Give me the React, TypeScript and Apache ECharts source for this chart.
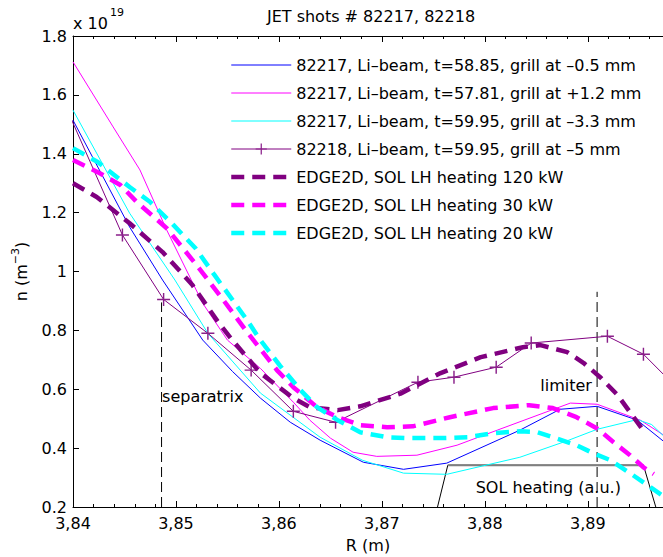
import React, { useEffect, useRef } from "react";
import * as echarts from "echarts";

// ---------- data ----------
const titleText = "JET shots # 82217, 82218";
const xLabelName = "R (m)";
const yTicks = [0.2, 1.8, 0.2]; // min, max, step
const xTicks = [3.84, 0.01]; // min, step

const seriesNames = [
  "82217, Li–beam, t=58.85, grill at –0.5 mm",
  "82217, Li–beam, t=57.81, grill at +1.2 mm",
  "82217, Li–beam, t=59.95, grill at –3.3 mm",
  "82218, Li–beam, t=59.95, grill at –5 mm",
  "EDGE2D, SOL LH heating 120 kW",
  "EDGE2D, SOL LH heating 30 kW",
  "EDGE2D, SOL LH heating 20 kW",
];

const li5885R = [3.84, 3.8455, 3.8487, 3.8526, 3.8555, 3.8582, 3.8611, 3.864, 3.8682, 3.8721, 3.8763, 3.8834, 3.8873, 3.8909, 3.8948, 3.898];
const li5885N = [1.514, 1.151, 0.971, 0.767, 0.66, 0.57, 0.488, 0.427, 0.352, 0.328, 0.349, 0.461, 0.532, 0.542, 0.495, 0.405];

const li5781R = [3.84, 3.8439, 3.8465, 3.8491, 3.8526, 3.855, 3.8582, 3.8614, 3.863, 3.865, 3.8672, 3.8695, 3.8734, 3.8773, 3.8812, 3.8883, 3.8909, 3.8951, 3.898];
const li5781N = [1.712, 1.491, 1.345, 1.141, 0.892, 0.767, 0.671, 0.556, 0.495, 0.434, 0.386, 0.372, 0.376, 0.41, 0.461, 0.553, 0.549, 0.495, 0.43];

const li5995R = [3.84, 3.8455, 3.8499, 3.8531, 3.8582, 3.864, 3.8681, 3.8721, 3.8763, 3.8834, 3.888, 3.8909, 3.8948, 3.8962, 3.898];
const li5995N = [1.548, 1.198, 0.971, 0.79, 0.587, 0.437, 0.359, 0.315, 0.311, 0.369, 0.425, 0.464, 0.497, 0.48, 0.42];

const sh82218R = [3.8395, 3.8448, 3.8488, 3.8531, 3.8573, 3.8614, 3.8655, 3.8735, 3.877, 3.8811, 3.8845, 3.8919, 3.8954, 3.8985];
const sh82218N = [1.544, 1.124, 0.905, 0.79, 0.665, 0.525, 0.488, 0.624, 0.641, 0.675, 0.757, 0.78, 0.719, 0.61];

const e120R = [3.84, 3.8423, 3.8455, 3.8487, 3.8516, 3.8541, 3.8553, 3.8582, 3.8614, 3.863, 3.8657, 3.8679, 3.8718, 3.8757, 3.8796, 3.8837, 3.8854, 3.888, 3.8896, 3.8912, 3.8929, 3.8941, 3.8956];
const e120N = [1.3, 1.253, 1.164, 1.066, 0.954, 0.828, 0.774, 0.655, 0.57, 0.539, 0.529, 0.542, 0.585, 0.655, 0.709, 0.743, 0.75, 0.726, 0.689, 0.641, 0.58, 0.522, 0.45];

const e30R = [3.84, 3.8426, 3.8446, 3.8462, 3.8491, 3.852, 3.8546, 3.857, 3.8598, 3.8614, 3.8637, 3.8657, 3.8679, 3.8705, 3.873, 3.8766, 3.8808, 3.8843, 3.8866, 3.8889, 3.8909, 3.8925, 3.8941, 3.8954, 3.8964];
const e30N = [1.379, 1.334, 1.294, 1.236, 1.147, 1.022, 0.903, 0.79, 0.665, 0.607, 0.539, 0.505, 0.478, 0.471, 0.474, 0.505, 0.536, 0.546, 0.536, 0.505, 0.467, 0.42, 0.376, 0.335, 0.312];

const e20R = [3.84, 3.8424, 3.8455, 3.8475, 3.8497, 3.8519, 3.8537, 3.8555, 3.8569, 3.8582, 3.8601, 3.8621, 3.8637, 3.8657, 3.8679, 3.8705, 3.8728, 3.8757, 3.8783, 3.8808, 3.8834, 3.885, 3.8866, 3.8889, 3.8905, 3.8922, 3.8941, 3.8958, 3.8972];
const e20N = [1.419, 1.372, 1.287, 1.236, 1.16, 1.079, 0.99, 0.903, 0.835, 0.767, 0.68, 0.597, 0.539, 0.495, 0.454, 0.437, 0.434, 0.434, 0.437, 0.451, 0.457, 0.455, 0.437, 0.41, 0.383, 0.359, 0.315, 0.274, 0.24];

const separatrixR = [3.8486, 3.8486];
const separatrixN = [0.2, 0.895];
const limiterR = [3.8909, 3.8909];
const limiterN = [0.2, 0.931];
const solHeatR = [3.8754, 3.8764, 3.8954, 3.8966];
const solHeatN = [0.2, 0.342, 0.342, 0.2];

// ---------- styling ----------
const FONT = "'DejaVu Sans', sans-serif";
const X_MAX = 3.8973;
const PLUS = "path://M4.45,0H5.55V4.45H10V5.55H5.55V10H4.45V5.55H0V4.45H4.45Z";
const DASH = [13, 8];

const zip = (a: number[], b: number[]) => a.map((v, i) => [v, b[i]]);

export default function App() {
  const ref = useRef<HTMLDivElement>(null);

  useEffect(() => {
    if (!ref.current) return;
    const chart = echarts.init(ref.current, null, { renderer: "svg" });

    const thin = (name: string, r: number[], n: number[], color: string, extra: any = {}) => ({
      type: "line",
      name,
      data: zip(r, n),
      color,
      symbol: "none",
      lineStyle: { color, width: 1 },
      clip: true,
      silent: true,
      z: 2,
      ...extra,
    });
    const dashed = (name: string, r: number[], n: number[], color: string) => ({
      type: "line",
      name,
      data: zip(r, n),
      color,
      symbol: "none",
      lineStyle: { color, width: 4.5, type: DASH, cap: "butt" },
      clip: true,
      silent: true,
      z: 3,
    });

    const xAxisCommon = {
      type: "value",
      min: xTicks[0],
      max: X_MAX,
      interval: xTicks[1],
      axisLine: { show: true, onZero: false, lineStyle: { color: "#000", width: 1 } },
      axisTick: { show: true, inside: true, length: 6, lineStyle: { color: "#000" } },
      minorTick: { show: true, splitNumber: 5, length: 3, lineStyle: { color: "#000" } },
      splitLine: { show: false },
      minorSplitLine: { show: false },
    };

    const option: any = {
      animation: false,
      backgroundColor: "#fff",
      grid: { left: 73, top: 36, right: 0, bottom: 50, containLabel: false, outerBoundsMode: "none" },
      legend: {
        orient: "vertical",
        left: 229,
        top: 57,
        padding: 0,
        itemWidth: 60,
        itemHeight: 14,
        itemGap: 12,
        selectedMode: false,
        textStyle: { fontSize: 16, fontFamily: FONT, color: "#000" },
        data: seriesNames.map((name, i) => ({
          name,
          lineStyle: { width: i < 4 ? 1 : 4.5 },
          itemStyle: i === 3 ? { borderWidth: 0 } : { borderWidth: 0, opacity: 0 },
        })),
      },
      xAxis: [
        {
          ...xAxisCommon,
          position: "bottom",
          axisLabel: {
            fontSize: 16,
            fontFamily: FONT,
            color: "#000",
            margin: 8,
            showMaxLabel: false,
            formatter: (v: number) => v.toFixed(2).replace(".", ","),
          },
          name: xLabelName,
          nameLocation: "middle",
          nameGap: 30,
          nameTextStyle: { fontSize: 16, fontFamily: FONT, color: "#000" },
        },
        {
          ...xAxisCommon,
          position: "top",
          axisLabel: { show: false },
        },
      ],
      yAxis: {
        type: "value",
        min: yTicks[0],
        max: yTicks[1],
        interval: yTicks[2],
        axisLine: { show: true, onZero: false, lineStyle: { color: "#000", width: 1 } },
        axisTick: { show: true, inside: true, length: 6, lineStyle: { color: "#000" } },
        axisLabel: { fontSize: 16, fontFamily: FONT, color: "#000", margin: 6 },
        splitLine: { show: false },
        name: "{a|n (m}{b|−3}{a|)}",
        nameLocation: "middle",
        nameGap: 40,
        nameRotate: 90,
        nameTextStyle: {
          fontSize: 16,
          fontFamily: FONT,
          color: "#000",
          rich: {
            a: { fontSize: 16, fontFamily: FONT, color: "#000" },
            b: { fontSize: 11, fontFamily: FONT, color: "#000", padding: [0, 0, 12, 0] },
          },
        },
      },
      series: [
        thin(seriesNames[0], li5885R, li5885N, "#0000ff"),
        thin(seriesNames[1], li5781R, li5781N, "#ff00ff"),
        thin(seriesNames[2], li5995R, li5995N, "#00ffff"),
        thin(seriesNames[3], sh82218R, sh82218N, "#800080", {
          symbol: PLUS,
          symbolSize: 13,
          showSymbol: true,
          showAllSymbol: true,
          itemStyle: { color: "#8a1f8a", borderWidth: 0 },
        }),
        dashed(seriesNames[4], e120R, e120N, "#800080"),
        dashed(seriesNames[5], e30R, e30N, "#ff00ff"),
        dashed(seriesNames[6], e20R, e20N, "#00ffff"),
        {
          type: "line",
          name: "separatrix",
          data: zip(separatrixR, separatrixN),
          symbol: "none",
          silent: true,
          lineStyle: { color: "#000", width: 1, type: [10, 5] },
          z: 1,
        },
        {
          type: "line",
          name: "limiter",
          data: zip(limiterR, limiterN),
          symbol: "none",
          silent: true,
          lineStyle: { color: "#000", width: 1, type: [10, 5] },
          z: 1,
        },
        {
          type: "line",
          name: "SOL heating",
          data: zip(solHeatR, solHeatN),
          symbol: "none",
          silent: true,
          lineStyle: { color: "#000", width: 1 },
          z: 1,
        },
        {
          type: "line",
          name: "SOL heating top",
          data: zip(solHeatR.slice(1, 3), solHeatN.slice(1, 3)),
          symbol: "none",
          silent: true,
          lineStyle: { color: "#808080", width: 2 },
          z: 1,
        },
      ],
    };

    chart.setOption(option);

    const px = (r: number, n: number) => chart.convertToPixel({ xAxisIndex: 0, yAxisIndex: 0 }, [r, n]) as number[];
    const sep = px(3.84865, 0.576);
    const lim = px(3.88538, 0.613);
    const sol = px(3.88616, 0.267);
    const txt = (x: number, y: number, text: string, align: string, size = 16) => ({
      type: "text",
      x,
      y,
      silent: true,
      style: {
        text,
        fill: "#000",
        font: `${size}px ${FONT}`,
        textAlign: align,
        textVerticalAlign: "middle",
      },
    });

    chart.setOption({
      graphic: [
        txt(371, 16.5, titleText, "center"),
        txt(73, 23, "x 10", "left"),
        txt(110, 12.5, "19", "left", 11),
        txt(sep[0], sep[1], "separatrix", "left"),
        txt(lim[0], lim[1], "limiter", "left"),
        txt(sol[0], sol[1], "SOL heating (a.u.)", "center"),
      ],
    });

    return () => chart.dispose();
  }, []);

  return (
    <div
      ref={ref}
      style={{ position: "absolute", left: 0, top: 0, width: 663, height: 557, background: "#fff" }}
    />
  );
}
